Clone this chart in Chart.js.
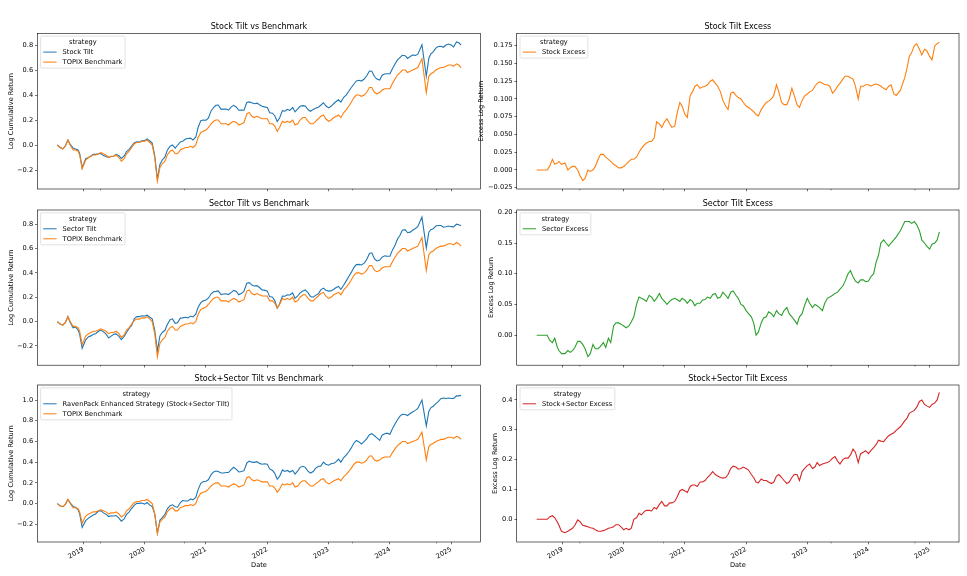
<!DOCTYPE html>
<html>
<head>
<meta charset="utf-8">
<script src="https://cdn.jsdelivr.net/npm/chart.js@4.4.1/dist/chart.umd.min.js"></script>
<style>
html,body{margin:0;padding:0;background:#fff;width:967px;height:576px;overflow:hidden;position:relative;}
canvas{position:absolute;}
</style>
</head>
<body>
<canvas id="p0"></canvas>
<canvas id="p1"></canvas>
<canvas id="p2"></canvas>
<canvas id="p3"></canvas>
<canvas id="p4"></canvas>
<canvas id="p5"></canvas>
<script>
// ---------------- DATA ----------------
const dates = [
 '2018-07-30','2018-08-15','2018-09-01','2018-09-15','2018-10-01','2018-10-15','2018-11-01','2018-11-15','2018-12-01','2018-12-10','2018-12-25',
 '2019-01-15','2019-02-01','2019-02-15','2019-03-01','2019-03-15','2019-04-01','2019-04-15','2019-05-01','2019-05-15','2019-06-01','2019-06-15','2019-07-01','2019-07-15','2019-08-01','2019-08-15','2019-09-01','2019-09-15','2019-10-01','2019-10-15','2019-11-01','2019-11-15','2019-12-01','2019-12-15',
 '2020-01-01','2020-01-15','2020-02-01','2020-02-15','2020-03-01','2020-03-17','2020-04-01','2020-04-15','2020-05-01','2020-05-15','2020-06-01','2020-06-15','2020-07-01','2020-07-15','2020-08-01','2020-08-15','2020-09-01','2020-09-15','2020-10-01','2020-10-15','2020-11-01','2020-11-15','2020-12-01','2020-12-15',
 '2021-01-01','2021-01-15','2021-02-01','2021-02-15','2021-03-01','2021-03-15','2021-04-01','2021-04-15','2021-05-01','2021-05-15','2021-06-01','2021-06-15','2021-07-01','2021-07-15','2021-08-01','2021-08-15','2021-09-01','2021-09-15','2021-10-01','2021-10-15','2021-11-01','2021-11-15','2021-12-01','2021-12-15',
 '2022-01-01','2022-01-15','2022-02-01','2022-02-15','2022-03-01','2022-03-15','2022-04-01','2022-04-15','2022-05-01','2022-05-15','2022-06-01','2022-06-15','2022-07-01','2022-07-15','2022-08-01','2022-08-15','2022-09-01','2022-09-15','2022-10-01','2022-10-15','2022-11-01','2022-11-15','2022-12-01','2022-12-15',
 '2023-01-01','2023-01-15','2023-02-01','2023-02-15','2023-03-01','2023-03-15','2023-04-01','2023-04-15','2023-05-01','2023-05-15','2023-06-01','2023-06-15','2023-07-01','2023-07-15','2023-08-01','2023-08-15','2023-09-01','2023-09-15','2023-10-01','2023-10-15','2023-11-01','2023-11-15','2023-12-01','2023-12-15',
 '2024-01-01','2024-01-15','2024-02-01','2024-02-15','2024-03-01','2024-03-15','2024-04-01','2024-04-15','2024-05-01','2024-05-15','2024-06-01','2024-06-15','2024-07-10','2024-08-05','2024-08-20','2024-09-01','2024-09-15','2024-10-01','2024-10-15','2024-11-01','2024-11-15','2024-12-01','2024-12-15',
 '2025-01-01','2025-01-15','2025-02-01','2025-02-15','2025-02-28'
];

const topix = [
 0.00,-0.02,-0.03,-0.01,0.04,0.00,-0.04,-0.04,-0.05,-0.08,-0.19,
 -0.12,-0.10,-0.09,-0.08,-0.08,-0.07,-0.06,-0.07,-0.08,-0.10,-0.09,-0.09,-0.08,-0.10,-0.13,-0.11,-0.07,-0.05,-0.02,0.01,0.02,0.02,0.03,
 0.03,0.04,0.02,0.00,-0.10,-0.29,-0.18,-0.15,-0.13,-0.08,-0.05,-0.04,-0.07,-0.07,-0.04,-0.03,-0.02,-0.02,-0.01,-0.02,0.00,0.06,0.10,0.11,
 0.12,0.14,0.17,0.19,0.20,0.20,0.17,0.17,0.17,0.16,0.18,0.19,0.18,0.16,0.17,0.18,0.25,0.26,0.23,0.22,0.23,0.22,0.21,0.21,
 0.21,0.17,0.17,0.15,0.11,0.14,0.19,0.18,0.19,0.18,0.20,0.16,0.17,0.20,0.22,0.22,0.19,0.17,0.17,0.19,0.21,0.23,0.24,0.21,
 0.19,0.20,0.22,0.23,0.24,0.22,0.26,0.28,0.31,0.34,0.38,0.40,0.40,0.39,0.40,0.42,0.46,0.46,0.42,0.41,0.42,0.44,0.45,0.45,
 0.45,0.49,0.53,0.56,0.58,0.60,0.60,0.58,0.59,0.60,0.61,0.62,0.69,0.42,0.55,0.57,0.58,0.60,0.61,0.62,0.62,0.63,0.64,
 0.64,0.63,0.65,0.64,0.62
];

const stockTilt = [
 0.000,-0.020,-0.030,-0.010,0.040,0.005,-0.025,-0.032,-0.040,-0.068,-0.182,
 -0.110,-0.100,-0.087,-0.075,-0.075,-0.070,-0.068,-0.085,-0.092,-0.100,-0.092,-0.090,-0.075,-0.085,-0.108,-0.088,-0.052,-0.035,-0.008,0.018,0.026,0.023,0.033,
 0.035,0.048,0.032,0.015,-0.085,-0.272,-0.155,-0.120,-0.095,-0.042,-0.010,0.000,-0.025,-0.002,0.025,0.030,0.048,0.052,0.055,0.040,0.062,0.140,0.195,0.200,
 0.198,0.214,0.275,0.300,0.318,0.320,0.285,0.287,0.288,0.280,0.305,0.317,0.302,0.278,0.280,0.278,0.340,0.345,0.338,0.330,0.335,0.322,0.310,0.305,
 0.300,0.258,0.255,0.232,0.188,0.216,0.275,0.270,0.285,0.277,0.300,0.265,0.290,0.310,0.315,0.312,0.282,0.270,0.285,0.295,0.302,0.318,0.338,0.314,
 0.297,0.310,0.332,0.348,0.362,0.344,0.382,0.400,0.430,0.458,0.488,0.512,0.518,0.512,0.528,0.552,0.592,0.590,0.548,0.528,0.520,0.558,0.568,0.570,
 0.570,0.608,0.650,0.681,0.700,0.718,0.715,0.693,0.708,0.720,0.717,0.725,0.802,0.550,0.695,0.730,0.745,0.775,0.788,0.790,0.782,0.800,0.808,
 0.800,0.785,0.825,0.818,0.800
];

const sectorTilt = [
 0.000,-0.020,-0.030,-0.010,0.040,-0.008,-0.052,-0.045,-0.070,-0.105,-0.220,
 -0.150,-0.125,-0.118,-0.105,-0.100,-0.080,-0.070,-0.085,-0.102,-0.135,-0.120,-0.105,-0.102,-0.122,-0.148,-0.122,-0.090,-0.055,-0.032,0.025,0.040,0.040,0.048,
 0.045,0.052,0.035,0.022,-0.070,-0.240,-0.118,-0.090,-0.072,-0.025,0.015,0.022,-0.015,-0.010,0.028,0.030,0.035,0.030,0.045,0.038,0.060,0.118,0.155,0.170,
 0.177,0.192,0.228,0.245,0.248,0.252,0.222,0.227,0.228,0.222,0.240,0.256,0.248,0.220,0.232,0.250,0.315,0.320,0.300,0.292,0.295,0.280,0.260,0.258,
 0.250,0.205,0.200,0.170,0.110,0.145,0.210,0.208,0.220,0.218,0.235,0.190,0.210,0.235,0.252,0.260,0.235,0.205,0.200,0.215,0.228,0.260,0.275,0.258,
 0.250,0.252,0.265,0.280,0.288,0.265,0.300,0.332,0.370,0.402,0.445,0.468,0.470,0.465,0.480,0.508,0.560,0.565,0.515,0.498,0.505,0.530,0.540,0.537,
 0.538,0.585,0.630,0.678,0.710,0.750,0.755,0.730,0.735,0.750,0.765,0.780,0.860,0.605,0.735,0.755,0.762,0.785,0.790,0.790,0.775,0.780,0.785,
 0.780,0.778,0.800,0.795,0.788
];

const comboTilt = [
 0.000,-0.020,-0.030,-0.010,0.040,0.008,-0.028,-0.035,-0.060,-0.100,-0.230,
 -0.165,-0.140,-0.125,-0.110,-0.100,-0.072,-0.068,-0.090,-0.102,-0.125,-0.118,-0.120,-0.115,-0.140,-0.170,-0.148,-0.105,-0.080,-0.048,-0.015,0.002,0.002,0.005,
 -0.005,0.010,-0.015,-0.030,-0.100,-0.285,-0.160,-0.135,-0.105,-0.050,-0.020,-0.012,-0.030,-0.035,0.010,0.030,0.025,0.025,0.045,0.035,0.060,0.135,0.195,0.210,
 0.215,0.230,0.280,0.305,0.315,0.310,0.295,0.295,0.300,0.300,0.330,0.350,0.330,0.305,0.310,0.318,0.390,0.410,0.400,0.398,0.405,0.388,0.380,0.385,
 0.380,0.335,0.320,0.290,0.235,0.262,0.325,0.310,0.320,0.305,0.320,0.285,0.315,0.350,0.360,0.350,0.310,0.295,0.310,0.340,0.360,0.360,0.400,0.380,
 0.370,0.385,0.390,0.405,0.430,0.400,0.445,0.468,0.500,0.535,0.585,0.610,0.595,0.575,0.600,0.625,0.665,0.675,0.655,0.635,0.610,0.660,0.675,0.680,
 0.670,0.720,0.770,0.810,0.845,0.862,0.860,0.850,0.870,0.885,0.900,0.918,1.000,0.750,0.890,0.925,0.940,0.965,0.985,1.015,1.020,1.015,1.020,
 1.015,1.015,1.040,1.040,1.045
];

const stockExcess = [
 0.000,0.000,0.000,0.000,0.000,0.005,0.015,0.008,0.010,0.012,0.008,
 0.010,0.000,0.003,0.005,0.005,0.000,-0.008,-0.015,-0.012,0.000,-0.002,0.000,0.005,0.015,0.022,0.022,0.018,0.015,0.012,0.008,0.006,0.003,0.003,
 0.005,0.008,0.012,0.015,0.015,0.018,0.025,0.030,0.035,0.038,0.040,0.040,0.045,0.068,0.065,0.060,0.068,0.072,0.065,0.060,0.062,0.080,0.095,0.090,
 0.078,0.074,0.105,0.110,0.118,0.120,0.115,0.117,0.118,0.120,0.125,0.127,0.122,0.118,0.110,0.098,0.090,0.085,0.108,0.110,0.105,0.102,0.100,0.095,
 0.090,0.088,0.085,0.082,0.078,0.076,0.085,0.090,0.095,0.097,0.100,0.105,0.120,0.110,0.095,0.092,0.092,0.100,0.115,0.105,0.092,0.088,0.098,0.104,
 0.107,0.110,0.112,0.118,0.122,0.124,0.122,0.120,0.120,0.118,0.108,0.112,0.118,0.122,0.128,0.132,0.132,0.130,0.128,0.118,0.100,0.118,0.118,0.120,
 0.120,0.118,0.120,0.121,0.120,0.118,0.115,0.113,0.118,0.120,0.107,0.105,0.112,0.130,0.145,0.160,0.165,0.175,0.178,0.170,0.162,0.170,0.168,
 0.160,0.155,0.175,0.178,0.180
];

const sectorExcess = [
 0.000,0.000,0.000,0.000,0.000,-0.008,-0.012,-0.005,-0.020,-0.025,-0.030,
 -0.030,-0.025,-0.028,-0.025,-0.020,-0.010,-0.010,-0.015,-0.022,-0.035,-0.030,-0.015,-0.022,-0.022,-0.018,-0.012,-0.020,-0.005,-0.012,0.015,0.020,0.020,0.018,
 0.015,0.012,0.015,0.022,0.030,0.050,0.062,0.060,0.058,0.055,0.065,0.062,0.055,0.060,0.068,0.060,0.055,0.050,0.055,0.058,0.060,0.058,0.055,0.060,
 0.057,0.052,0.058,0.055,0.048,0.052,0.052,0.057,0.058,0.062,0.060,0.066,0.068,0.060,0.062,0.070,0.065,0.060,0.070,0.072,0.065,0.060,0.050,0.048,
 0.040,0.035,0.030,0.020,0.000,0.005,0.020,0.028,0.030,0.038,0.035,0.030,0.040,0.035,0.032,0.040,0.045,0.035,0.030,0.025,0.018,0.030,0.035,0.048,
 0.060,0.052,0.045,0.050,0.048,0.045,0.040,0.052,0.060,0.062,0.065,0.068,0.070,0.075,0.080,0.088,0.100,0.105,0.095,0.088,0.085,0.090,0.090,0.087,
 0.088,0.095,0.100,0.118,0.130,0.150,0.155,0.150,0.145,0.150,0.155,0.160,0.170,0.185,0.185,0.185,0.182,0.185,0.180,0.170,0.155,0.150,0.145,
 0.140,0.148,0.150,0.155,0.168
];

const comboExcess = [
 0.000,0.000,0.000,0.000,0.000,0.008,0.012,0.005,-0.010,-0.020,-0.040,
 -0.045,-0.040,-0.035,-0.030,-0.020,-0.002,-0.008,-0.020,-0.022,-0.025,-0.028,-0.030,-0.035,-0.040,-0.040,-0.038,-0.035,-0.030,-0.028,-0.025,-0.018,-0.018,-0.025,
 -0.035,-0.030,-0.035,-0.030,0.000,0.005,0.020,0.015,0.025,0.030,0.030,0.028,0.040,0.035,0.050,0.060,0.045,0.045,0.055,0.055,0.060,0.075,0.095,0.100,
 0.095,0.090,0.110,0.115,0.115,0.110,0.125,0.125,0.130,0.140,0.150,0.160,0.150,0.145,0.140,0.138,0.140,0.150,0.170,0.178,0.175,0.168,0.170,0.175,
 0.170,0.165,0.150,0.140,0.125,0.122,0.135,0.130,0.130,0.125,0.120,0.125,0.145,0.150,0.140,0.130,0.120,0.125,0.140,0.150,0.150,0.130,0.160,0.170,
 0.180,0.185,0.170,0.175,0.190,0.180,0.185,0.188,0.190,0.195,0.205,0.210,0.195,0.185,0.200,0.205,0.205,0.215,0.235,0.225,0.190,0.220,0.225,0.230,
 0.220,0.230,0.240,0.250,0.265,0.262,0.260,0.270,0.280,0.285,0.290,0.298,0.310,0.330,0.340,0.355,0.360,0.365,0.375,0.395,0.400,0.385,0.380,
 0.375,0.385,0.390,0.400,0.425
];

// tick labels
const xTickYears = [2019, 2020, 2021, 2022, 2023, 2024, 2025];
const xMinorYears = [2019.28, 2020.65, 2023.39, 2024.76];
const yTicksCum = [-0.2, 0.0, 0.2, 0.4, 0.6, 0.8];
const yTicksCombo = [-0.2, 0.0, 0.2, 0.4, 0.6, 0.8, 1.0];
const yTicksStockEx = [-0.025, 0.000, 0.025, 0.050, 0.075, 0.100, 0.125, 0.150, 0.175];
const yTicksSectorEx = [0.00, 0.05, 0.10, 0.15, 0.20];
const yTicksComboEx = [0.0, 0.1, 0.2, 0.3, 0.4];

// ---------------- RENDERING ----------------
const BLUE = '#1f77b4', ORANGE = '#ff7f0e', GREEN = '#2ca02c', RED = '#d62728';
const FAMILY = '"DejaVu Sans", sans-serif';
const FS = 6.67;
Chart.defaults.font.family = FAMILY;
Chart.defaults.color = '#000';

function decYear(s) {
  const [y, m, d] = s.split('-').map(Number);
  const a = Date.UTC(y, 0, 1), b = Date.UTC(y + 1, 0, 1);
  return y + (Date.UTC(y, m - 1, d) - a) / (b - a);
}
const xVals = dates.map(decYear);
const toPts = arr => arr.map((v, i) => ({x: xVals[i], y: v}));
const fmt = dec => v => {
  const s = (Math.abs(v) < 1e-9 ? 0 : v).toFixed(dec);
  return s.replace('-', '\u2212');
};

function rrect(ctx, x, y, w, h, r) {
  ctx.beginPath();
  ctx.moveTo(x + r, y);
  ctx.lineTo(x + w - r, y); ctx.arcTo(x + w, y, x + w, y + r, r);
  ctx.lineTo(x + w, y + h - r); ctx.arcTo(x + w, y + h, x + w - r, y + h, r);
  ctx.lineTo(x + r, y + h); ctx.arcTo(x, y + h, x, y + h - r, r);
  ctx.lineTo(x, y + r); ctx.arcTo(x, y, x + r, y, r);
  ctx.closePath();
}

const mplFrame = {
  id: 'mplFrame',
  afterDraw(chart, args, o) {
    const ctx = chart.ctx, a = chart.chartArea, xs = chart.scales.x;
    ctx.save();
    // minor ticks
    ctx.strokeStyle = '#000';
    ctx.lineWidth = 0.45;
    ctx.beginPath();
    xMinorYears.forEach(v => {
      const px = xs.getPixelForValue(v);
      ctx.moveTo(px, a.bottom); ctx.lineTo(px, a.bottom + 1.4);
    });
    ctx.stroke();
    // spines
    ctx.lineWidth = 0.6;
    ctx.strokeStyle = '#000';
    ctx.strokeRect(a.left, a.top, a.right - a.left, a.bottom - a.top);
    // legend
    ctx.font = FS + 'px ' + FAMILY;
    ctx.textBaseline = 'middle';
    const ds = chart.data.datasets;
    const tw = Math.max(...ds.map(d => ctx.measureText(d.label).width));
    const ttw = ctx.measureText(o.title).width;
    const bx = a.left + 3.3, by = a.top + 2.8;
    const bw = Math.max(22 + tw + 2.6, ttw + 6);
    const bh = 12 + 10 * ds.length;
    rrect(ctx, bx, by, bw, bh, 1.4);
    ctx.fillStyle = 'rgba(255,255,255,0.8)';
    ctx.fill();
    ctx.strokeStyle = '#cccccc';
    ctx.lineWidth = 0.6;
    ctx.stroke();
    ctx.fillStyle = '#000';
    ctx.textAlign = 'center';
    ctx.fillText(o.title, bx + bw / 2, by + 6);
    ctx.textAlign = 'left';
    ds.forEach((d, i) => {
      const cy = by + 16 + 10 * i;
      ctx.strokeStyle = d.borderColor;
      ctx.lineWidth = 1;
      ctx.beginPath(); ctx.moveTo(bx + 2.6, cy); ctx.lineTo(bx + 16, cy); ctx.stroke();
      ctx.fillStyle = '#000';
      ctx.fillText(d.label, bx + 22, cy);
    });
    ctx.restore();
  }
};

const LEFT = {left: 0, width: 484, yW: 37.3, padR: 3.3};
const RIGHT = {left: 470, width: 493, yW: 46.7, padR: 4};
const ROW = [
  {top: 0, height: 195, tPad: 22, xH: 6, bottom: false},
  {top: 190, height: 181, tPad: 8.7, xH: 5.7, bottom: false},
  {top: 366, height: 210, tPad: 7.7, xH: 34, bottom: true}
];

const panels = [
  {id: 'p0', col: LEFT, row: ROW[0], title: 'Stock Tilt vs Benchmark', yTitle: 'Log Cumulative Return', yTPad: 7.5,
   yMin: -0.352, yMax: 0.894, yTicks: yTicksCum, dec: 1,
   series: [['Stock Tilt', stockTilt, BLUE], ['TOPIX Benchmark', topix, ORANGE]]},
  {id: 'p1', col: RIGHT, row: ROW[0], title: 'Stock Tilt Excess', yTitle: 'Excess Log Return', yTPad: 7,
   yMin: -0.0268, yMax: 0.1925, yTicks: yTicksStockEx, dec: 3,
   series: [['Stock Excess', stockExcess, ORANGE]]},
  {id: 'p2', col: LEFT, row: ROW[1], title: 'Sector Tilt vs Benchmark', yTitle: 'Log Cumulative Return', yTPad: 7.5,
   yMin: -0.359, yMax: 0.917, yTicks: yTicksCum, dec: 1,
   series: [['Sector Tilt', sectorTilt, BLUE], ['TOPIX Benchmark', topix, ORANGE]]},
  {id: 'p3', col: RIGHT, row: ROW[1], title: 'Sector Tilt Excess', yTitle: 'Excess Log Return', yTPad: 17,
   yMin: -0.0488, yMax: 0.2037, yTicks: yTicksSectorEx, dec: 2,
   series: [['Sector Excess', sectorExcess, GREEN]]},
  {id: 'p4', col: LEFT, row: ROW[2], title: 'Stock+Sector Tilt vs Benchmark', yTitle: 'Log Cumulative Return', yTPad: 7.5,
   yMin: -0.371, yMax: 1.145, yTicks: yTicksCombo, dec: 1,
   series: [['RavenPack Enhanced Strategy (Stock+Sector Tilt)', comboTilt, BLUE], ['TOPIX Benchmark', topix, ORANGE]]},
  {id: 'p5', col: RIGHT, row: ROW[2], title: 'Stock+Sector Tilt Excess', yTitle: 'Excess Log Return', yTPad: 21,
   yMin: -0.076, yMax: 0.45, yTicks: yTicksComboEx, dec: 1,
   series: [['Stock+Sector Excess', comboExcess, RED]]}
];

const X_MIN = 2018.249, X_MAX = 2025.48;

panels.forEach(p => {
  const cv = document.getElementById(p.id);
  cv.width = p.col.width; cv.height = p.row.height;
  cv.style.left = p.col.left + 'px'; cv.style.top = p.row.top + 'px';
  cv.style.width = p.col.width + 'px'; cv.style.height = p.row.height + 'px';
  const n = p.series.length;
  new Chart(cv, {
    type: 'line',
    data: {
      datasets: p.series.map((s, i) => ({
        label: s[0], data: toPts(s[1]), borderColor: s[2], backgroundColor: s[2],
        borderWidth: 1.1, pointRadius: 0, tension: 0, fill: false, order: n - i
      }))
    },
    options: {
      responsive: false, animation: false, events: [],
      layout: {padding: {left: 0, right: p.col.padR, top: 0, bottom: 0}},
      plugins: {
        legend: {display: false}, tooltip: {enabled: false},
        title: {display: true, text: p.title, fullSize: false, color: '#000',
                font: {size: 8, family: FAMILY, weight: 'normal'},
                padding: {top: p.row.tPad, bottom: 1.7}},
        mplFrame: {title: 'strategy'}
      },
      scales: {
        x: {
          type: 'linear', min: X_MIN, max: X_MAX,
          afterBuildTicks: s => { s.ticks = xTickYears.map(v => ({value: v})); },
          afterFit: s => { s.height = p.row.xH; },
          grid: {display: true, drawOnChartArea: false, drawTicks: true, tickLength: 2.3, tickWidth: 0.55, tickColor: '#000'},
          border: {display: false},
          ticks: {display: p.row.bottom, autoSkip: false, minRotation: 30, maxRotation: 30, padding: 1,
                  font: {size: FS}, color: '#000', callback: v => String(v)},
          title: {display: p.row.bottom, text: 'Date', color: '#000', font: {size: FS}, padding: {top: 0, bottom: 6.3}}
        },
        y: {
          type: 'linear', min: p.yMin, max: p.yMax,
          afterBuildTicks: s => { s.ticks = p.yTicks.map(v => ({value: v})); },
          afterFit: s => { s.width = p.col.yW; },
          grid: {display: true, drawOnChartArea: false, drawTicks: true, tickLength: 2.3, tickWidth: 0.55, tickColor: '#000'},
          border: {display: false},
          ticks: {padding: 1.8, font: {size: FS}, color: '#000', callback: fmt(p.dec)},
          title: {display: true, text: p.yTitle, color: '#000', font: {size: FS}, padding: {top: p.yTPad, bottom: 0}}
        }
      }
    },
    plugins: [mplFrame]
  });
});
</script>
</body>
</html>
